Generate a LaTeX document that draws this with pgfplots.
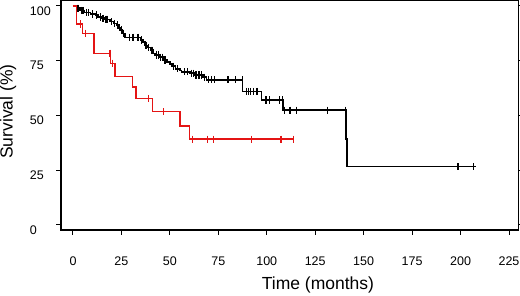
\documentclass[border=0pt]{standalone}
\usepackage{fontspec}
\setmainfont{Liberation Sans}
\usepackage{pgfplots}
\pgfplotsset{compat=1.18}
\definecolor{kmred}{RGB}{228,20,20}
\begin{document}
\begin{tikzpicture}
\begin{axis}[
  name=ax,
  scale only axis, width=457.5pt, height=229.5pt,
  xmin=-6.19, xmax=229.9, ymin=-2.3, ymax=102.5,
  xtick={0,25,50,75,100,125,150,175,200,225},
  ytick={0,25,50,75,100},
  tick align=outside, major tick length=4.5pt,
  tick style={black, line width=1pt},
  axis line style={line width=1.3pt},
  ticklabel style={font=\fontsize{12.5}{14}\selectfont},
  /pgf/number format/assume math mode=true,
  xticklabel style={yshift=-19pt},
  yticklabel={\makebox[23pt][l]{\axisdefaultticklabel}},
  yticklabel style={yshift=-5pt},
  xlabel={Time (months)}, ylabel={Survival (\%)},
  xlabel style={font=\fontsize{17.5}{20}\selectfont, at={(axis description cs:0.5617,0)}, anchor=center, yshift=-55pt},
  ylabel style={font=\fontsize{17.5}{20}\selectfont, at={(axis description cs:-0.1155,0.516)}, anchor=center},
  clip=false,
]
% black curve
\addplot[const plot, black, line width=1.5pt] coordinates {
(0,100) (2,99) (3.6,98) (6,97) (9,96.3) (11.5,95.9) (13,95) (15,94.4) (16,93.9)
(19,92.8) (21,92) (22.5,91.3) (23.5,90) (24.3,89) (25.5,87.5) (26.9,85.7)
(35,84.5) (36,83.5) (37.2,82) (38.5,81) (40,79.8) (41.5,78.4) (42.4,77.6)
(44.5,76.6) (46.6,75.3) (48.5,74.4) (50,73.5) (51,72.5) (53,71.3) (55.3,70.5)
(56,69.9) (60.4,69.3) (63,68.5) (67,67.5) (69,66.3) (87.6,61) (97.4,57.1)
(108.4,52.4) (140.8,39.3) (141.5,26.6) (208,26.6)
};
\addplot[only marks, mark=|, mark size=3.6pt, black, line width=1.2pt] coordinates {
(2.5,99) (3,99) (4.5,98) (5.2,98) (7,97) (8,97) (10,96.3) (12,95.9) (14,95)
(15.5,94.4) (17,93.9) (18,93.9) (20,92.8) (21.5,92) (23,91.3) (24,90) (25,89)
(26,87.5) (29,85.7) (31,85.7) (33.5,85.7) (35.5,84.5) (37.5,82) (38,82) (39,81)
(40.5,79.8) (41,79.8) (43,77.6) (44,77.6) (45,76.6) (46,76.6) (47.5,75.3)
(52,72.5) (54,71.3) (57.5,69.9) (59,69.9) (61,69.3) (62,69.3) (63.5,68.5)
(65,68.5) (66.5,68.5) (68,67.5) (70,66.3) (71.5,66.3) (73,66.3) (80,66.3)
(84,66.3) (87.3,66.3) (89.5,61) (90.5,61) (91.5,61) (93,61) (95,61)
(99.6,57.1) (101.3,57.1) (106.5,57.1) (108,57.1) (109.3,52.4) (112,52.4)
(115.5,52.4) (131.4,52.4) (140.5,52.4) (198.7,26.6) (206.5,26.6)
};
% red curve
\addplot[const plot, kmred, line width=1.5pt] coordinates {
(0,100) (1.9,91.8) (5,87.5) (10.8,78.4) (19.4,73.8) (21.7,67.7) (30.8,62.9)
(32.5,57.8) (41.1,51.7) (55.2,45.3) (60.2,39.2) (113.8,39.2)
};
\addplot[only marks, mark=|, mark size=3.6pt, kmred, line width=1.2pt] coordinates {
(4,91.8) (6.5,87.5) (19.1,78.4) (20.5,73.8) (38.9,57.8) (46.6,51.7)
(61.6,39.2) (69.5,39.2) (72.5,39.2) (92,39.2) (107.3,39.2) (113.8,39.2)
};
\end{axis}
\pgfresetboundingbox
\useasboundingbox (-61pt,-65pt) rectangle (459pt,230pt);
\end{tikzpicture}
\end{document}
